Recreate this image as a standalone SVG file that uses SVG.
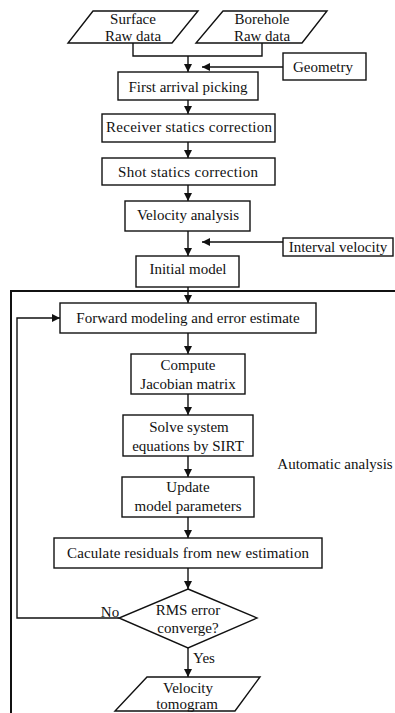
<svg xmlns="http://www.w3.org/2000/svg" width="395" height="713" viewBox="0 0 395 713" font-family="Liberation Serif, serif">
<style>
.b{fill:#fff;stroke:#111;stroke-width:1.4}
.t{font-family:'Liberation Serif',serif;font-size:15px;fill:#111;text-anchor:middle}
.c{fill:none;stroke:#111;stroke-width:1.4}
</style>
<defs>
<marker id="a" markerWidth="8" markerHeight="8" viewBox="0 0 10 10" refX="10" refY="5" orient="auto" markerUnits="userSpaceOnUse">
<path d="M0,0 L10,5 L0,10 z" fill="#111"/>
</marker>
</defs>
<rect width="395" height="713" fill="#fff"/>
<g id="connectors">
<path class="c" d="M133,43 V56 H262 V43"/>
<path class="c" d="M188,56 V72" marker-end="url(#a)"/>
<path class="c" d="M283,67 H202" marker-end="url(#a)"/>
<path class="c" d="M188,100 V114" marker-end="url(#a)"/>
<path class="c" d="M188,142 V158" marker-end="url(#a)"/>
<path class="c" d="M188,185 V201" marker-end="url(#a)"/>
<path class="c" d="M188,231 V256" marker-end="url(#a)"/>
<path class="c" d="M283,242 H202" marker-end="url(#a)"/>
<path class="c" d="M188,287 V303" marker-end="url(#a)"/>
<path class="c" d="M188,333 V354" marker-end="url(#a)"/>
<path class="c" d="M188,394 V415" marker-end="url(#a)"/>
<path class="c" d="M188,456 V477" marker-end="url(#a)"/>
<path class="c" d="M188,517 V538" marker-end="url(#a)"/>
<path class="c" d="M188,568 V589" marker-end="url(#a)"/>
<path class="c" d="M188,648 V677" marker-end="url(#a)"/>
<path class="c" d="M119,618 H17 V318 H60" marker-end="url(#a)"/>
<text class="t" x="110" y="617">No</text>
<text class="t" x="204" y="663">Yes</text>
</g>
<g id="frame">
<path d="M11,713 V291 H395" fill="none" stroke="#111" stroke-width="2"/>
<text class="t" x="335" y="469">Automatic analysis</text>
</g>
<g id="surface">
<polygon class="b" points="93,11 198,11 172,43 68,43"/>
<text class="t" x="133" y="24">Surface</text>
<text class="t" x="133" y="41">Raw data</text>
</g>
<g id="borehole">
<polygon class="b" points="223,11 327,11 302,43 196,43"/>
<text class="t" x="262" y="24">Borehole</text>
<text class="t" x="262" y="41">Raw data</text>
</g>
<g id="geometry">
<rect class="b" x="283" y="53" width="83" height="27"/>
<text class="t" x="323" y="72">Geometry</text>
</g>
<g id="first">
<rect class="b" x="118" y="72" width="140" height="28"/>
<text class="t" x="188" y="92">First arrival picking</text>
</g>
<g id="receiver">
<rect class="b" x="102" y="114" width="173" height="28"/>
<text class="t" x="189" y="132" textLength="166">Receiver statics correction</text>
</g>
<g id="shot">
<rect class="b" x="102" y="158" width="173" height="27"/>
<text class="t" x="188" y="177" textLength="140">Shot statics correction</text>
</g>
<g id="velan">
<rect class="b" x="125" y="201" width="125" height="30"/>
<text class="t" x="188" y="220">Velocity analysis</text>
</g>
<g id="interval">
<rect class="b" x="283" y="238" width="110" height="18"/>
<text class="t" x="338" y="252">Interval velocity</text>
</g>
<g id="initial">
<rect class="b" x="136" y="256" width="103" height="31"/>
<text class="t" x="188" y="274">Initial model</text>
</g>
<g id="forward">
<rect class="b" x="60" y="303" width="256" height="30"/>
<text class="t" x="188" y="323">Forward modeling and error estimate</text>
</g>
<g id="jacobian">
<rect class="b" x="131" y="354" width="114" height="40"/>
<text class="t" x="188" y="370">Compute</text>
<text class="t" x="188" y="389">Jacobian matrix</text>
</g>
<g id="sirt">
<rect class="b" x="123" y="415" width="130" height="41"/>
<text class="t" x="189" y="432">Solve system</text>
<text class="t" x="188" y="451">equations by SIRT</text>
</g>
<g id="update">
<rect class="b" x="122" y="477" width="132" height="40"/>
<text class="t" x="188" y="492">Update</text>
<text class="t" x="188" y="511">model parameters</text>
</g>
<g id="residuals">
<rect class="b" x="54" y="538" width="268" height="30"/>
<text class="t" x="188" y="558" textLength="242">Caculate residuals from new estimation</text>
</g>
<g id="rms">
<polygon class="b" points="188,589 257,618 188,648 119,618"/>
<text class="t" x="188" y="615">RMS error</text>
<text class="t" x="188" y="633">converge?</text>
</g>
<g id="tomogram">
<polygon class="b" points="147,677 260,677 235,711 115,711"/>
<text class="t" x="188" y="693">Velocity</text>
<text class="t" x="187" y="709">tomogram</text>
</g>
</svg>
